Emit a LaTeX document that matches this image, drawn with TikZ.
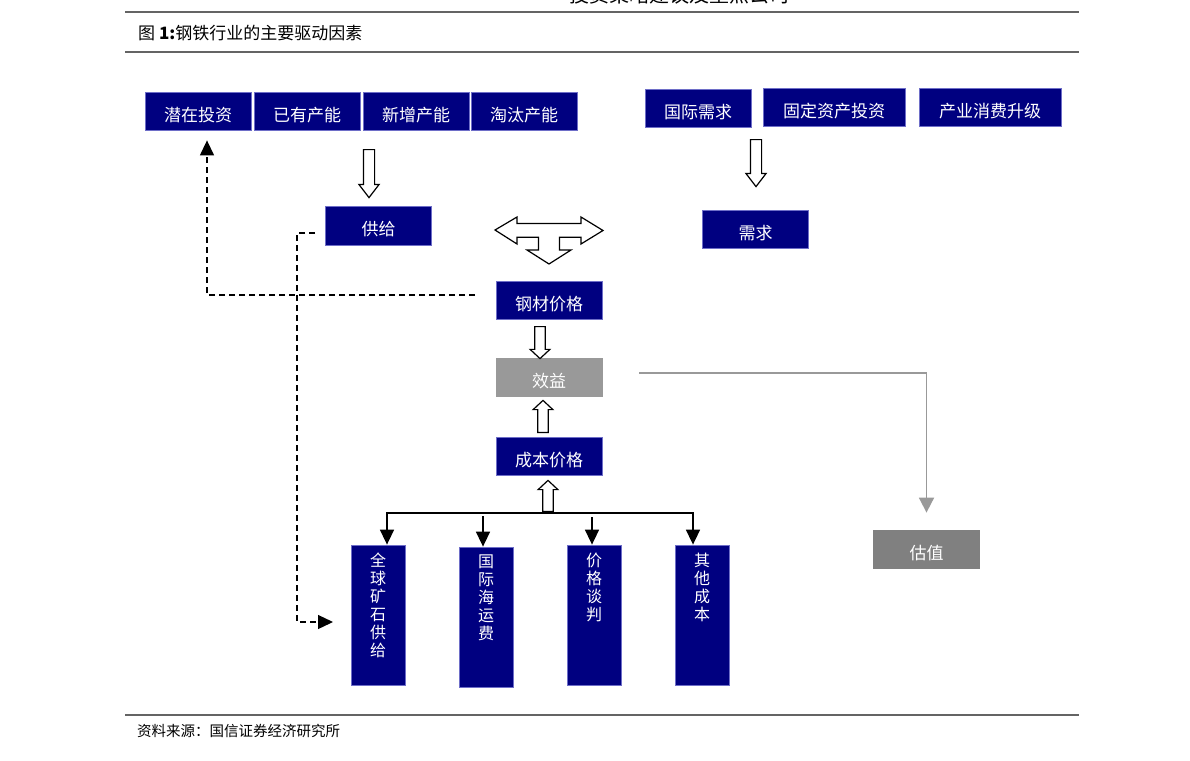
\documentclass[tikz,border=0pt]{standalone}
\usepackage{fontspec}
\setmainfont{Noto Sans CJK SC}
\usepackage{tikz}
\usetikzlibrary{shapes.arrows,arrows.meta}
\definecolor{navy}{RGB}{0,0,128}
\definecolor{boxrim}{RGB}{110,110,200}
\definecolor{lightgrey}{RGB}{153,153,153}
\definecolor{midgrey}{RGB}{128,128,128}
\definecolor{rulegrey}{RGB}{100,100,100}

\begin{document}
\begin{tikzpicture}[x=1pt,y=-1pt,>={Triangle[width=14pt,length=15pt]},
	box/.style={rectangle,fill=navy,draw=boxrim,line width=0.8pt,text=white,inner sep=0pt,minimum width=106pt,minimum height=38pt,text height=22pt,text depth=2pt,font={\fontsize{17}{20}\selectfont}},
	widebox/.style={box,minimum width=142pt},
	greybox/.style={box,fill=lightgrey,draw=lightgrey},
	tallbox/.style={box,minimum width=54pt,minimum height=140pt},
	vtext/.style={anchor=north,yshift=-5pt,align=center,text=white,font={\fontsize{16}{18}\selectfont}},
	hollow/.style={single arrow,draw,fill=white,line width=1.2pt,inner sep=5pt,single arrow head extend=4.5pt,single arrow tip angle=75,minimum height=48pt},
	stub/.style={hollow,inner sep=4.65pt,single arrow head extend=4.65pt,single arrow tip angle=94,minimum height=32pt},
	dashline/.style={dash pattern=on 6pt off 4pt,line width=1.3pt},
	greyline/.style={lightgrey,line width=1.8pt,>={Triangle[width=15pt,length=15pt]}}]
		\useasboundingbox (0,0) rectangle (1190,760);
		\clip (0,0) rectangle (1190,760);
		\node (header) at (679,-5) {\fontsize{20}{22}\selectfont 投资策略建议及重点公司};
		\draw[rulegrey,line width=1.2pt] (125,12) -- (1079,12);
		\node (title) [anchor=west,inner sep=0pt] at (138,33) {\fontsize{17}{20}\selectfont 图 \textbf{1:}钢铁行业的主要驱动因素};
		\draw[rulegrey,line width=1.2pt] (125,52) -- (1079,52);
		\node (invest) [box] at (198,111) {潜在投资};
		\node (exist) [box,node distance=109pt,right of=invest] {已有产能};
		\node (newcap) [box,node distance=109pt,right of=exist] {新增产能};
		\node (retire) [box,node distance=108pt,right of=newcap] {淘汰产能};
		\node (global) [box] at (698,108) {国际需求};
		\node (fixed) [widebox] at (834,107) {固定资产投资};
		\node (upgrade) [widebox] at (990,107) {产业消费升级};
		\node (supply) [box,minimum height=39pt] at (378.5,225.5) {供给};
		\node (demand) [box] at (755.5,229) {需求};
		\node (price) [box] at (549,300) {钢材价格};
		\node (benefit) [greybox,node distance=77.5pt,below of=price] {效益};
		\node (cost) [box,node distance=78.5pt,below of=benefit] {成本价格};
		\node (valuation) [greybox,fill=midgrey,draw=midgrey] at (926.5,549) {估值};
		\node (ore) [tallbox,label={[vtext]north:全\\球\\矿\\石\\供\\给}] at (378,615) {};
		\node (freight) [tallbox,label={[vtext]north:国\\际\\海\\运\\费}] at (486,617) {};
		\node (talks) [tallbox,label={[vtext]north:价\\格\\谈\\判}] at (594,615) {};
		\node (other) [tallbox,label={[vtext]north:其\\他\\成\\本}] at (702,615) {};
		\node (supplyarrow) [hollow,shape border rotate=270,anchor=tail] at (369,149) {};
		\node (demandarrow) [hollow,shape border rotate=270,anchor=tail,minimum height=47pt] at (756,139) {};
		\node (pricearrow) [stub,shape border rotate=270,anchor=tail] at (540,326) {};
		\node (costarrow) [stub,shape border rotate=90,anchor=tail] at (543,433) {};
		\node (busarrow) [stub,shape border rotate=90,anchor=tail,minimum height=31pt] at (548,512) {};
		\draw[line width=1.2pt,fill=white] (495,230) -- (517,217) -- (517,223.5) -- (581,223.5) -- (581,217) -- (603,230.5)
			-- (581,244) -- (581,237.3) -- (559.5,237.3) -- (559.5,250) -- (571,250) -- (549,264) -- (527,250)
			-- (538.5,250) -- (538.5,237.3) -- (517,237.3) -- (517,244) -- cycle;
		\coordinate (busL) at (387,513);
		\coordinate (busR) at (693,513);
		\coordinate (drop2) at (483,516);
		\coordinate (drop3) at (592,517);
		\draw[<->,line width=1.6pt] (ore.north -| busL) -- (busL) -- (busR) -- (other.north -| busR);
		\draw[->,line width=1.6pt] (drop2) -- (drop2 |- freight.north);
		\draw[->,line width=1.6pt] (drop3) -- (drop3 |- talks.north);
		\coordinate (dashA) at (475,295);
		\coordinate (dashC) at (315,233);
		\coordinate (dashD) at (333,622);
		\draw[dashline,->,shorten >=10pt] (dashA) -| ([xshift=9pt]invest.south);
		\draw[dashline,->] (dashC) -- ++(-18pt,0) |- (dashD);
		\coordinate (greyA) at (639,373);
		\draw[greyline,->,shorten >=17pt] (greyA) -| (valuation.north);
		\draw[rulegrey,line width=1.2pt] (125,715) -- (1079,715);
		\node (source) [anchor=west,inner sep=0pt] at (137,731) {\fontsize{14.5}{16}\selectfont 资料来源：国信证券经济研究所};
\end{tikzpicture}
\end{document}
